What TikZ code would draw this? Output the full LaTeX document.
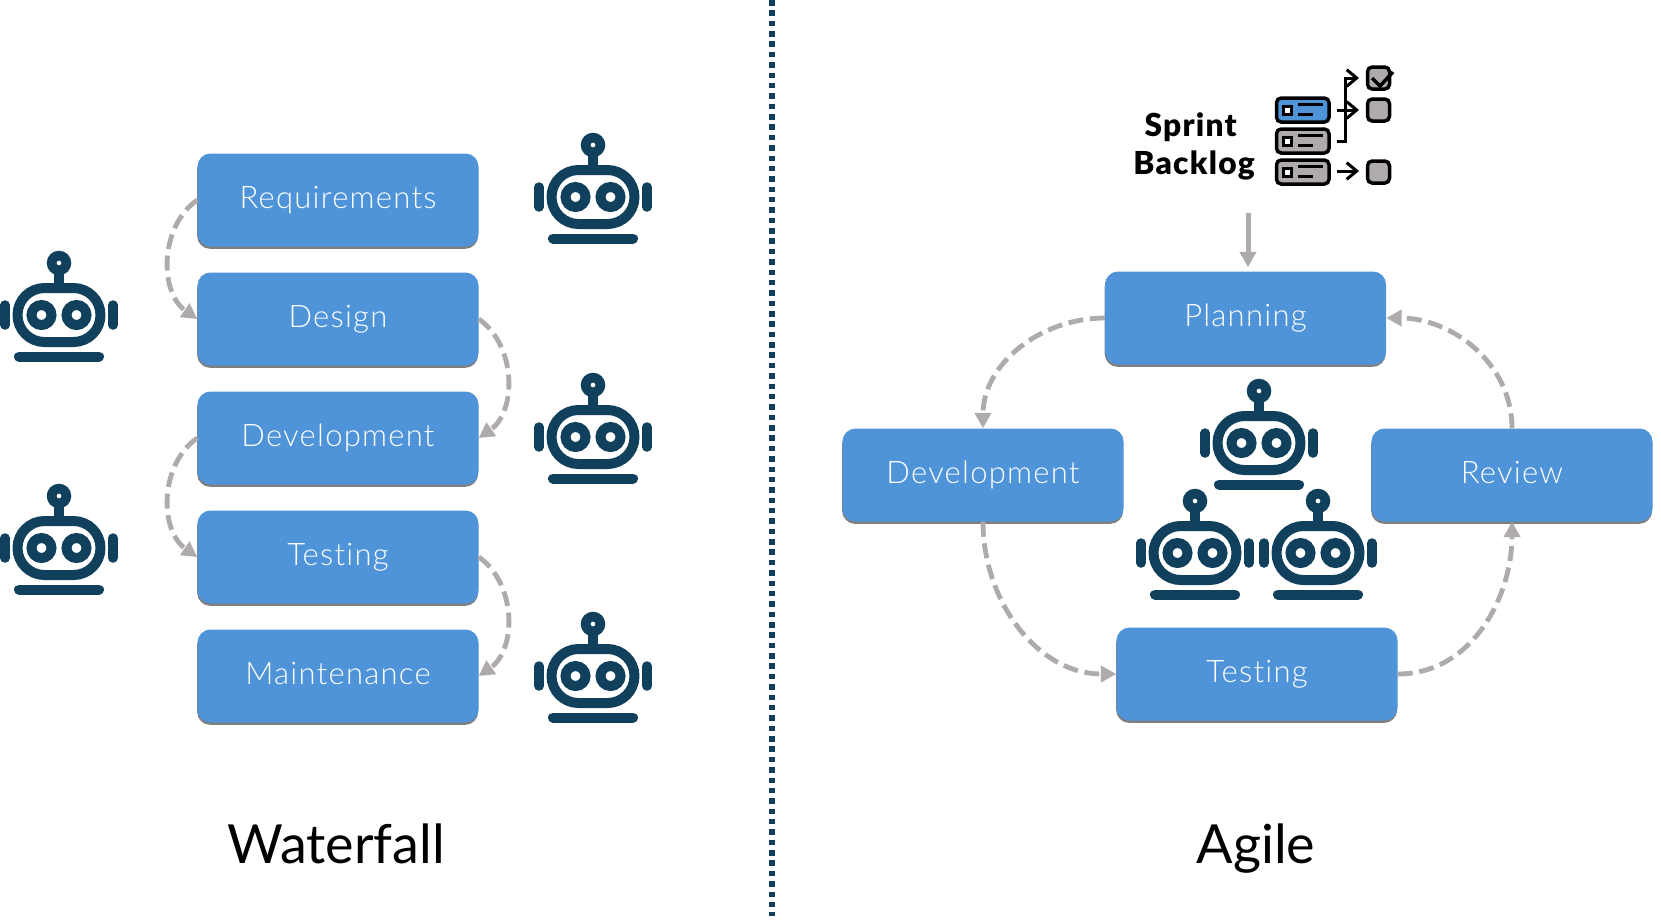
\documentclass[tikz,border=0pt]{standalone}
\usepackage{fontspec}
\setmainfont{Lato}[UprightFont=* Light,BoldFont=* Black,Ligatures=NoCommon,LetterSpace=4]
\newfontfamily\titlefont{Lato}
\usetikzlibrary{arrows.meta,shadows}
\definecolor{boxblue}{HTML}{4F94D9}
\definecolor{navy}{HTML}{10405C}
\definecolor{arcgray}{HTML}{AFABAB}

\begin{document}
\begin{tikzpicture}[x=0.3mm,y=-0.3mm,
  phase/.style={fill=boxblue,rounded corners=3.9mm,minimum width=84.3mm,minimum height=27.9mm,
    inner sep=0pt,text=white,text height=6.9mm,text depth=2.1mm,font=\fontsize{26.5}{30}\selectfont,
    drop shadow={shadow xshift=-0.3pt,shadow yshift=-2pt,fill=black,opacity=0.5}},
  handoff/.style={draw=arcgray,line width=1.45mm,dash pattern=on 4.5mm off 2mm,
    -{Triangle[length=4.6mm,width=4.8mm]}},
  title/.style={font=\titlefont\fontsize{46}{48}\selectfont,text=black,anchor=base},
  pics/bot/.style={code={
    \begin{scope}[navy,line width=3mm]
    \draw[rounded corners=8.1mm] (-41.5,-27) rectangle (41.5,27);
    \draw (-17.5,0) circle (10);
    \draw (17.5,0) circle (10);
    \draw (0,-42) -- (0,-30);
    \fill[even odd rule] (0,-52) circle (12.3) (0,-52) circle (2.5);
    \draw[line cap=round,line width=2.85mm] (-54,-10) -- (-54,10);
    \draw[line cap=round,line width=2.85mm] (54,-10) -- (54,10);
    \draw[line cap=round] (-40,41.5) -- (40,41.5);
    \end{scope}
  }},
  icon/.style={draw=black,line width=1.05mm,rounded corners=1.4mm},
  iconline/.style={black,line width=0.9mm},
  iconarrow/.style={black,line width=0.9mm,-{Straight Barb[length=3mm,width=5mm]}}]

\useasboundingbox (0,0) rectangle (1661,919);

% Divider
\coordinate (top) at (772,0);
\coordinate (bottom) at (772,916);
\draw[navy,line width=1.65mm,dash pattern=on 1.65mm off 1.46mm] (top) -- (bottom);

% Waterfall
\node[phase] (req) at (338,200) {Requirements};
\node[phase] (des) at (338,319) {Design};
\node[phase] (dev) at (338,438) {Development};
\node[phase] (tst) at (338,557) {Testing};
\node[phase] (mnt) at (338,676) {Maintenance};
\draw[handoff] (req.west) to[bend right=55] (des.west);
\draw[handoff] (des.east) to[bend left=55] (dev.east);
\draw[handoff] (dev.west) to[bend right=55] (tst.west);
\draw[handoff] (tst.east) to[bend left=55] (mnt.east);
\foreach \px/\py in {593/197,59/315,593/437,59/548,593/676}
  \pic at (\px,\py) {bot};
\node[title] (waterfall) at (336,863) {Waterfall};

% Agile
\node[phase] (plan) at (1245.5,318) {Planning};
\node[phase] (adev) at (983,475) {Development};
\node[phase] (rev) at (1512,475) {Review};
\node[phase] (atst) at (1257,674) {Testing};
\draw[handoff] (plan.west) to[out=180,in=90] (adev.north);
\draw[handoff] (adev.south) to[out=-90,in=180] (atst.west);
\draw[handoff] (atst.east) to[out=0,in=-90] (rev.south);
\draw[handoff] (rev.north) to[out=90,in=0] (plan.east);
\foreach \px/\py in {1259/443,1195/553,1318/553}
  \pic at (\px,\py) {bot};
\node[title] (agile) at (1256,863) {Agile};

% Sprint backlog
\node[align=center,font=\fontsize{27}{32.5}\selectfont\bfseries,text=black,inner sep=0pt] (sprint) at (1194,146) {Sprint\hspace*{2mm}\\Backlog};
\foreach \ry/\col in {110/boxblue,141/arcgray,172/arcgray}{
  \draw[icon,fill=\col] (1276.5,\ry-12) rectangle (1329,\ry+12);
  \draw[black,fill=white,line width=0.9mm] (1283.5,\ry-4) rectangle (1291.5,\ry+4);
  \draw[iconline] (1298,\ry-6) -- (1323,\ry-6);
  \draw[iconline] (1298,\ry+4.5) -- (1313,\ry+4.5);
}
\foreach \ry in {78,110,172}
  \draw[icon,fill=arcgray] (1367.5,\ry-11) rectangle (1389.5,\ry+11);
\draw[black,line width=1.05mm] (1372,78) -- (1380,86) -- (1393,72);
\draw[iconarrow] (1337,141) -- (1345,141) -- (1345,78) -- (1359,78);
\draw[iconarrow] (1337,110) -- (1359,110);
\draw[iconarrow] (1337,171) -- (1359,171);
\coordinate (backlog) at (1248,213);
\draw[draw=arcgray,line width=1.5mm,shorten >=1.2mm,-{Triangle[length=4.6mm,width=4.8mm]}] (backlog) -- (backlog |- plan.north);

\end{tikzpicture}
\end{document}
